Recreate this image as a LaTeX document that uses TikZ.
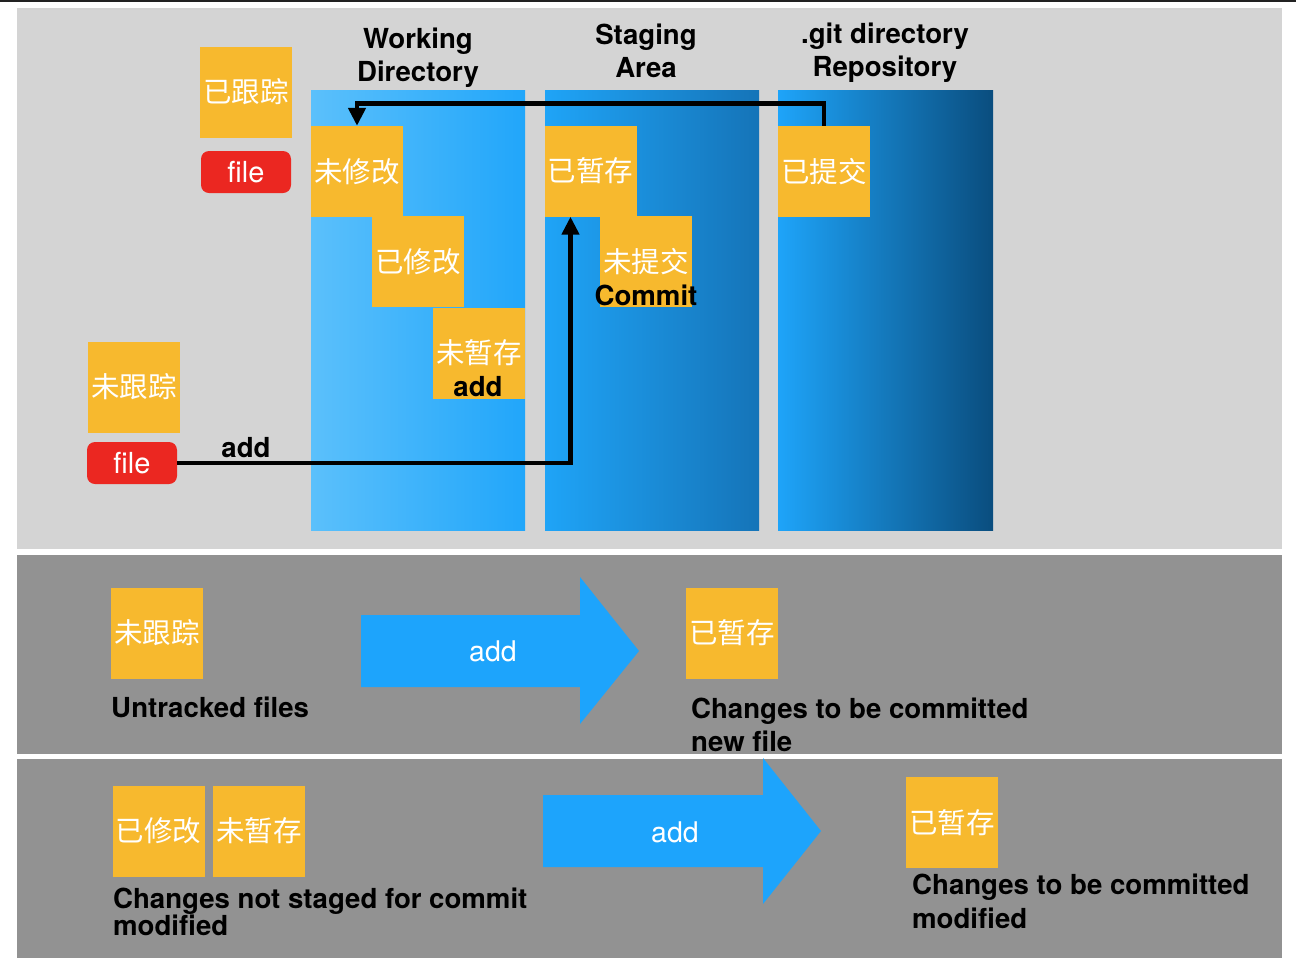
\documentclass[tikz,border=0pt]{standalone}
\usepackage{fontspec}
\setmainfont{TeX Gyre Heros}
\newfontfamily\cjk{Noto Sans CJK SC}
\usetikzlibrary{arrows.meta}
\definecolor{panelA}{HTML}{D4D4D4}
\definecolor{panelB}{HTML}{929292}
\definecolor{org}{HTML}{F7B92E}
\definecolor{redf}{HTML}{EB2721}
\definecolor{blueA}{HTML}{1DA4FC}
\definecolor{wdL}{HTML}{5BC0FB}
\definecolor{wdR}{HTML}{21A6FA}
\definecolor{saL}{HTML}{1FA4F7}
\definecolor{saR}{HTML}{1574B8}
\definecolor{reL}{HTML}{1EA4F9}
\definecolor{reR}{HTML}{0A4D7E}
\definecolor{topline}{HTML}{222222}
\tikzset{
  obox/.style={fill=org, text=white, minimum width=92pt, minimum height=91pt, inner sep=0pt, font=\cjk\fontsize{28.5}{30}\selectfont},
  filebox/.style={fill=redf, text=white, rounded corners=8pt, minimum width=90pt, minimum height=42pt, inner sep=0pt, font=\fontsize{29}{30}\selectfont},
  colbox/.style={minimum width=214pt, minimum height=440pt, inner sep=0pt, anchor=north west},
  lbl/.style={text=black, inner sep=0pt, font=\bfseries\fontsize{27.6}{33}\selectfont},
  wlbl/.style={text=white, inner sep=0pt, font=\fontsize{28.5}{30}\selectfont},
  conn/.style={line width=4.7pt, black, -{Triangle[width=17pt,length=18pt]}},
  blockarrow/.style={fill=blueA}
}
\begin{document}
\begin{tikzpicture}[x=1pt,y=-1pt]
\useasboundingbox (0,0) rectangle (1296,970);
\fill[white] (0,0) rectangle (1296,970);
\draw[topline, line width=1.5pt] (0,0.75) -- (1296,0.75);
% panels
\fill[panelA] (17,8) rectangle (1282,549);
\fill[panelB] (17,555) rectangle (1282,754);
\fill[panelB] (17,759) rectangle (1282,958);
% columns
\node[colbox, left color=wdL, right color=wdR] (wd) at (311,90) {};
\node[colbox, left color=saL, right color=saR] (sa) at (545,90) {};
\node[colbox, left color=reL, right color=reR, minimum width=215pt] (repo) at (778,90) {};
% headings
\node[lbl, align=center, anchor=north] (hwd) at (418,27.5) {Working\\Directory};
\node[lbl, align=center, anchor=north] (hsa) at (646,24) {Staging\\Area};
\node[lbl, align=center, anchor=north] (hre) at (885,22.5) {.git directory\\Repository};
% left side
\node[obox] (tracked) at (246,92) {已跟踪};
\node[filebox] (file1) at (246,172) {file};
\node[obox] (untracked) at (134,387) {未跟踪};
\node[filebox] (file2) at (132,463) {file};
% working dir boxes
\node[obox] (unmod) at (357,171.5) {未修改};
\node[obox] (mod) at (418,261.5) {已修改};
\node[obox] (unstaged) at (479,353) {未暂存};
\node[lbl, anchor=base] (addA) at (478,396) {add};
% staging boxes
\node[obox] (staged) at (590.5,171) {已暂存};
\node[obox] (uncommitted) at (646,261.5) {未提交};
\node[lbl, anchor=base] (commit) at (646,305) {Commit};
% repo box
\node[obox] (committed) at (824,171.5) {已提交};
% connectors
\draw[conn] (file2.east) -| ([xshift=-20pt]staged.south);
\node[lbl, anchor=base] (addB) at (246,457) {add};
\draw[conn] (committed.north) -- ++(0,-22) -| (unmod.north);
% panel 2
\node[obox] (untracked2) at (157,633) {未跟踪};
\node[lbl, anchor=base west] (utf) at (111,717) {Untracked files};
\fill[blockarrow] (361,615) -- (580,615) -- (580,577) -- (639,651) -- (580,724) -- (580,687) -- (361,687) -- cycle;
\node[wlbl, anchor=base] (addC) at (493,661) {add};
\node[obox] (staged2) at (732,633) {已暂存};
\node[lbl, align=left, anchor=north west, font=\bfseries\fontsize{27.6}{33}\selectfont] (ctb) at (691,697.5) {Changes to be committed\\new file};
% panel 3
\node[obox] (mod3) at (158.5,831) {已修改};
\node[obox] (unstaged3) at (259,831) {未暂存};
\node[lbl, align=left, anchor=north west, font=\bfseries\fontsize{27.6}{26}\selectfont] (cns) at (113,887.5) {Changes not staged for commit\\modified};
\fill[blockarrow] (543,795) -- (763,795) -- (763,758) -- (821,831) -- (763,904) -- (763,867) -- (543,867) -- cycle;
\node[wlbl, anchor=base] (addD) at (675,842) {add};
\node[obox] (staged3) at (952,822.5) {已暂存};
\node[lbl, align=left, anchor=north west, font=\bfseries\fontsize{27.6}{34}\selectfont] (ctb3) at (912,873.5) {Changes to be committed\\modified};
\end{tikzpicture}
\end{document}
